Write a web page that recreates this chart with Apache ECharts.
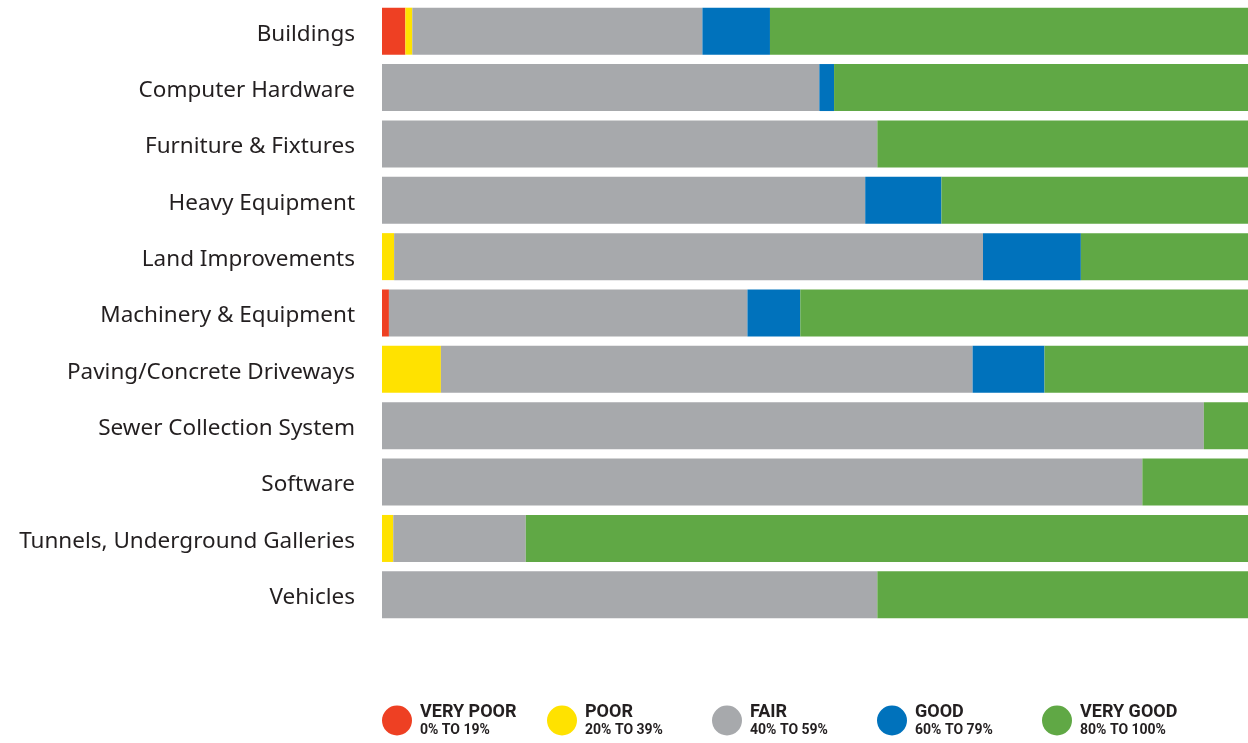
<!DOCTYPE html>
<html>
<head>
<meta charset="utf-8">
<script src="https://cdn.jsdelivr.net/npm/echarts@6/dist/echarts.min.js"></script>
<style>
  html, body { margin: 0; padding: 0; background: #fff; }
  #main { width: 1248px; height: 743px; }
</style>
</head>
<body>
<div id="main"></div>
<script>
// asset classes, top to bottom
var categories = ['Buildings', 'Computer Hardware', 'Furniture & Fixtures', 'Heavy Equipment',
  'Land Improvements', 'Machinery & Equipment', 'Paving/Concrete Driveways',
  'Sewer Collection System', 'Software', 'Tunnels, Underground Galleries', 'Vehicles'];

// share of each class (%) by condition
var veryPoor = [2.7, 0, 0, 0, 0, 0.8, 0, 0, 0, 0, 0];
var poor     = [0.8, 0, 0, 0, 1.4, 0, 6.8, 0, 0, 1.3, 0];
var fair     = [33.5, 50.5, 57.2, 55.8, 68.0, 41.4, 61.4, 94.9, 87.8, 15.3, 57.2];
var good     = [7.8, 1.7, 0, 8.8, 11.3, 6.1, 8.3, 0, 0, 0, 0];
var veryGood = [55.2, 47.8, 42.8, 35.4, 19.3, 51.7, 23.5, 5.1, 12.2, 83.4, 42.8];

var seriesNames = ['VERY POOR', 'POOR', 'FAIR', 'GOOD', 'VERY GOOD'];
var rangeLabels = ['0% TO 19%', '20% TO 39%', '40% TO 59%', '60% TO 79%', '80% TO 100%'];
var colors = ['#EE4023', '#FFE200', '#A7A9AC', '#0072BC', '#60A845'];

var myChart = echarts.init(document.getElementById('main'));

var allData = [veryPoor, poor, fair, good, veryGood];
var series = [];
for (var i = 0; i < allData.length; i++) {
  series.push({
    name: seriesNames[i],
    type: 'bar',
    stack: 'total',
    barWidth: 47,
    itemStyle: { color: colors[i] },
    data: allData[i]
  });
}

myChart.setOption({
  animation: false,
  color: colors,
  grid: { left: 382, right: 0, top: 3, height: 620 },
  xAxis: { type: 'value', min: 0, max: 100, show: false },
  yAxis: {
    type: 'category',
    inverse: true,
    data: categories,
    axisLine: { show: false },
    axisTick: { show: false },
    axisLabel: {
      margin: 27,
      color: '#231F20',
      formatter: function (v) { return '{l|' + v + '}'; },
      rich: {
        l: { fontSize: 22.5, fontFamily: 'Noto Sans', color: '#231F20', padding: [6, 0, 0, 0] }
      }
    }
  },
  legend: {
    left: 382,
    top: 703,
    padding: 0,
    icon: 'circle',
    itemWidth: 30,
    itemHeight: 30,
    itemGap: 8,
    data: seriesNames,
    formatter: function (name) {
      var idx = seriesNames.indexOf(name);
      return '{a|' + name + '}\n{b|' + rangeLabels[idx] + '}';
    },
    textStyle: {
      color: '#231F20',
      rich: {
        a: { fontSize: 18, fontWeight: 'bold', fontFamily: 'Liberation Sans Narrow, Roboto', width: 119, padding: [0, 0, 0, 3], lineHeight: 20 },
        b: { fontSize: 14, fontWeight: 'bold', fontFamily: 'Liberation Sans Narrow, Roboto', width: 119, padding: [0, 0, 0, 3], lineHeight: 17 }
      }
    }
  },
  series: series
});
</script>
</body>
</html>
